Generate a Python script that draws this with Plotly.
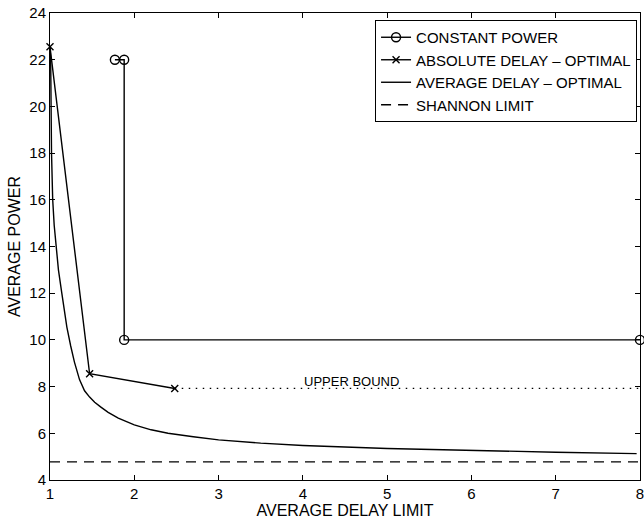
import plotly.graph_objects as go

# Constant power
cp_x = [1.77, 1.88, 1.88, 8.0]
cp_y = [22.0, 22.0, 10.0, 10.0]

# Absolute delay - optimal
abs_x = [1.0, 1.47, 2.48]
abs_y = [22.55, 8.55, 7.92]

# Upper bound (dotted continuation)
ub_x = [2.48, 8.0]
ub_y = [7.92, 7.92]

# Average delay - optimal
avg_x = [1.0, 1.008, 1.018, 1.032, 1.05, 1.07, 1.1, 1.14, 1.2, 1.245, 1.29, 1.35, 1.41,
         1.47, 1.53, 1.6, 1.69, 1.81, 2.0, 2.2, 2.4, 2.7, 3.0, 3.5, 4.0, 5.0, 6.0, 7.0, 7.96]
avg_y = [22.55, 22.0, 18.0, 16.0, 14.9, 14.0, 13.0, 12.0, 10.55, 9.75, 9.05, 8.3, 7.82,
         7.55, 7.33, 7.13, 6.9, 6.65, 6.36, 6.15, 6.0, 5.85, 5.72, 5.58, 5.48, 5.35, 5.26, 5.19, 5.13]

# Shannon limit
sh_x = [1.0, 8.0]
sh_y = [4.78, 4.78]

x_ticks = [1, 2, 3, 4, 5, 6, 7, 8]
y_ticks = [4, 6, 8, 10, 12, 14, 16, 18, 20, 22, 24]

FONT = "Liberation Sans, Arial, Helvetica, sans-serif"

fig = go.Figure()
fig.add_trace(go.Scatter(x=cp_x, y=cp_y, mode="lines+markers", name="CONSTANT POWER",
                         line=dict(color="black", width=1.4),
                         marker=dict(symbol="circle-open", size=9, color="black", line=dict(width=1.4)),
                         cliponaxis=False))
fig.add_trace(go.Scatter(x=abs_x, y=abs_y, mode="lines+markers", name="ABSOLUTE DELAY \u2013 OPTIMAL",
                         line=dict(color="black", width=1.4),
                         marker=dict(symbol="x-thin-open", size=7, color="black", line=dict(width=1.4)),
                         cliponaxis=False))
fig.add_trace(go.Scatter(x=avg_x, y=avg_y, mode="lines", name="AVERAGE DELAY \u2013 OPTIMAL",
                         line=dict(color="black", width=1.4)))
fig.add_trace(go.Scatter(x=sh_x, y=sh_y, mode="lines", name="SHANNON LIMIT",
                         line=dict(color="black", width=1.3, dash="10px,7px")))
fig.add_trace(go.Scatter(x=ub_x, y=ub_y, mode="lines", showlegend=False,
                         line=dict(color="black", width=1.3, dash="1.5px,5.5px")))

fig.add_annotation(x=4.58, y=8.22, text="UPPER BOUND", showarrow=False,
                   font=dict(size=13, color="black", family=FONT))

axis_common = dict(showline=True, linecolor="black", linewidth=1, mirror="ticks",
                   ticks="inside", ticklen=5, tickcolor="black", showgrid=False, zeroline=False,
                   ticklabeloverflow="allow", automargin=False,
                   tickfont=dict(size=15, color="black", family=FONT))

fig.update_xaxes(range=[1, 8], tickvals=x_ticks, ticktext=[str(v) for v in x_ticks],
                 title=dict(text="AVERAGE DELAY LIMIT", font=dict(size=16, color="black", family=FONT), standoff=0),
                 **axis_common)
fig.update_yaxes(range=[4, 24], tickvals=y_ticks, ticktext=[str(v) for v in y_ticks],
                 title=dict(text="AVERAGE POWER", font=dict(size=16, color="black", family=FONT), standoff=4),
                 **axis_common)

fig.update_layout(
    width=644, height=519,
    margin=dict(l=50, r=4, t=13, b=39),
    paper_bgcolor="white", plot_bgcolor="white",
    font=dict(family=FONT, color="black"),
    legend=dict(x=0.995, y=0.985, xanchor="right", yanchor="top",
                bordercolor="black", borderwidth=1, bgcolor="white",
                font=dict(size=15, color="black", family=FONT),
                tracegroupgap=0, itemwidth=30),
    showlegend=True,
)

fig.write_html("out.html")
